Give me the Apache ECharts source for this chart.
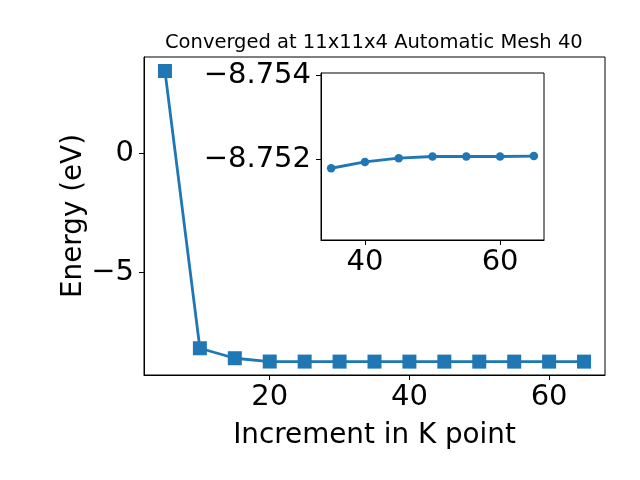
<!DOCTYPE html>
<html><head><meta charset="utf-8">
<script src="https://cdn.jsdelivr.net/npm/echarts@6/dist/echarts.min.js"></script>
<style>html,body{margin:0;padding:0;background:#fff}#c{width:640px;height:480px}</style>
</head><body><div id="c"></div>
<script>
const kPoints = [5, 10, 15, 20, 25, 30, 35, 40, 45, 50, 55, 60, 65];
const energies = [3.47, -8.19, -8.61, -8.7485, -8.7505, -8.7513, -8.75178, -8.75193, -8.75202, -8.75206, -8.75206, -8.75206, -8.75207];
const insetK = [35, 40, 45, 50, 55, 60, 65];
const insetEnergies = [-8.75178, -8.75193, -8.75202, -8.75206, -8.75206, -8.75206, -8.75207];
const mainXTicks = [20, 40, 60];
const mainYTicks = [-5, 0];
const insetXTicks = [40, 60];
const insetYTicks = [-8.754, -8.752];
const titleText = 'Converged at 11x11x4 Automatic Mesh 40';
const xName = 'Increment in K point';
const yName = 'Energy (eV)';

const FONT = 'DejaVu Sans';
const BLUE = '#1f77b4';
const minus = s => s.replace('-', '\u2212');
const fmtInt = v => minus(String(Math.round(v)));
const fmt3 = v => minus(v.toFixed(3));

function axisCommon(ticks, fmt, size, margin) {
  return {
    type: 'value',
    axisLine: {show: true, onZero: false, lineStyle: {color: '#000', width: 1}},
    axisTick: {show: true, inside: false, length: 5, customValues: ticks, lineStyle: {color: '#000', width: 1}},
    axisLabel: {show: true, customValues: ticks, formatter: fmt, color: '#000', fontFamily: FONT, fontSize: size, margin: margin},
    splitLine: {show: false}
  };
}

const chart = echarts.init(document.getElementById('c'), null, {renderer: 'canvas'});
chart.setOption({
  animation: false,
  backgroundColor: '#fff',
  title: {text: titleText, left: 160, top: 28, textStyle: {fontFamily: FONT, fontSize: 19.5, fontWeight: 'normal', color: '#000'}},
  grid: [
    {left: 144, right: 35, top: 57, bottom: 105, show: true, borderColor: '#000', borderWidth: 1, backgroundColor: 'transparent'},
    {left: 321, right: 96, top: 73, bottom: 240, show: true, borderColor: '#000', borderWidth: 1, backgroundColor: '#fff', z: 5}
  ],
  xAxis: [
    Object.assign(axisCommon(mainXTicks, fmtInt, 29, 8), {gridIndex: 0, min: 2, max: 68,
      name: xName, nameLocation: 'middle', nameGap: 47, nameMoveOverlap: false, nameTextStyle: {fontFamily: FONT, fontSize: 27.8, color: '#000'}}),
    Object.assign(axisCommon(insetXTicks, fmtInt, 29, 8), {gridIndex: 1, min: 33.5, max: 66.5, z: 6})
  ],
  yAxis: [
    Object.assign(axisCommon(mainYTicks, fmtInt, 29, 10), {gridIndex: 0, min: -9.315, max: 4.059,
      name: yName, nameLocation: 'middle', nameGap: 56, nameMoveOverlap: false, nameTextStyle: {fontFamily: FONT, fontSize: 27.8, color: '#000'}}),
    Object.assign(axisCommon(insetYTicks, fmt3, 29, 10), {gridIndex: 1, min: -8.75405, max: -8.75007, inverse: true, z: 6})
  ],
  series: [
    {type: 'line', xAxisIndex: 0, yAxisIndex: 0, data: kPoints.map((k, i) => [k, energies[i]]),
      symbol: 'rect', symbolSize: 14, showAllSymbol: true, lineStyle: {color: BLUE, width: 2.8}, itemStyle: {color: BLUE}},
    {type: 'line', xAxisIndex: 1, yAxisIndex: 1, data: insetK.map((k, i) => [k, insetEnergies[i]]), z: 7,
      symbol: 'circle', symbolSize: 8.5, showAllSymbol: true, lineStyle: {color: BLUE, width: 2.8}, itemStyle: {color: BLUE}}
  ]
});
</script></body></html>
